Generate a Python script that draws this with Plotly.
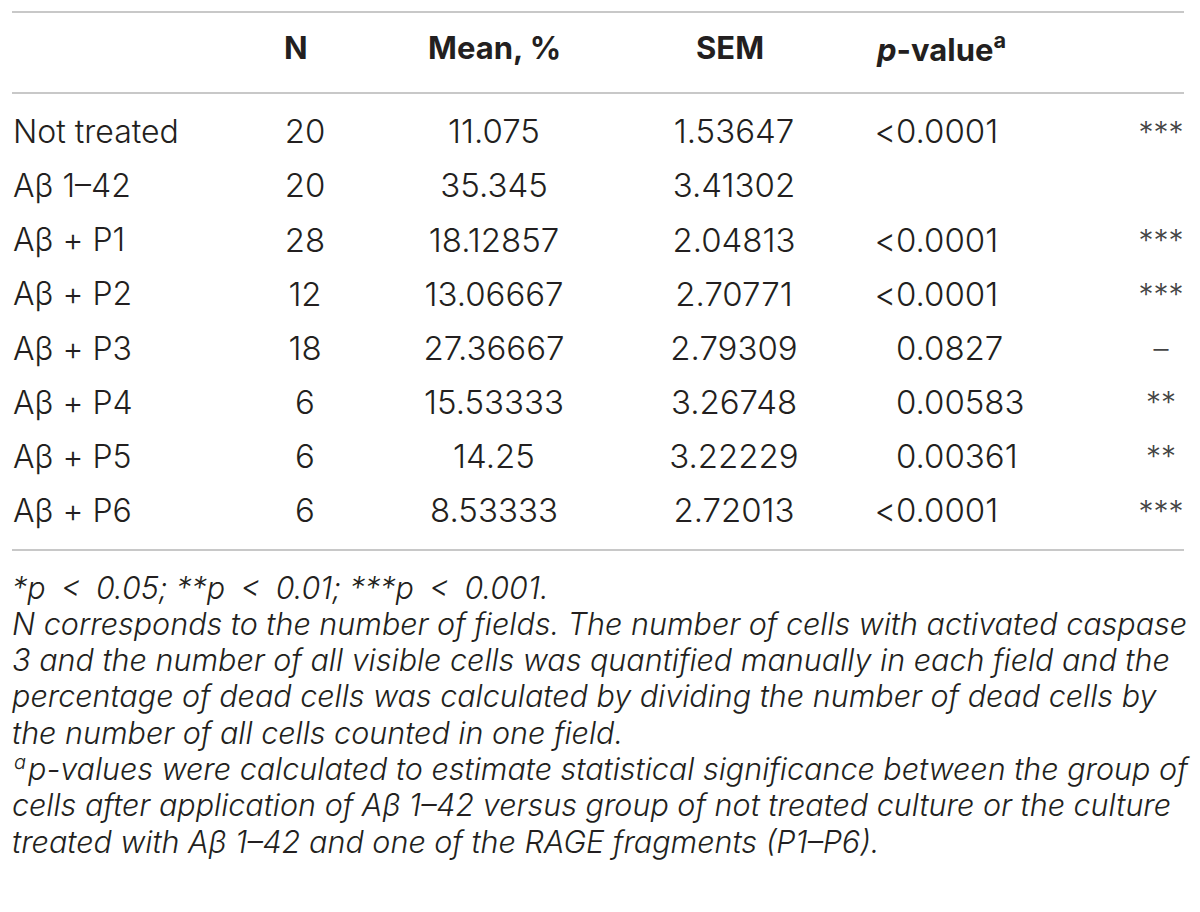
import plotly.graph_objects as go

# table data
groups = ["Not treated", "Aβ 1–42", "Aβ + P1", "Aβ + P2", "Aβ + P3", "Aβ + P4", "Aβ + P5", "Aβ + P6"]
n_fields = ["20", "20", "28", "12", "18", "6", "6", "6"]
means = ["11.075", "35.345", "18.12857", "13.06667", "27.36667", "15.53333", "14.25", "8.53333"]
sems = ["1.53647", "3.41302", "2.04813", "2.70771", "2.79309", "3.26748", "3.22229", "2.72013"]
p_values = ["<0.0001", "", "<0.0001", "<0.0001", "0.0827", "0.00583", "0.00361", "<0.0001"]
signif = ["***", "", "***", "***", "–", "**", "**", "***"]

headers = ["N", "Mean, %", "SEM", "<i>p</i>-value<sup>a</sup>"]

footnotes = [
    "*p\u2002<\u20020.05; **p\u2002<\u20020.01; ***p\u2002<\u20020.001.",
    "N corresponds to the number of fields. The number of cells with activated caspase",
    "3 and the number of all visible cells was quantified manually in each field and the",
    "percentage of dead cells was calculated by dividing the number of dead cells by",
    "the number of all cells counted in one field.",
    "p-values were calculated to estimate statistical significance between the group of",
    "cells after application of Aβ 1–42 versus group of not treated culture or the culture",
    "treated with Aβ 1–42 and one of the RAGE fragments (P1–P6).",
]
footnote_mark = "a"  # superscript in front of the 6th footnote line

# page has an 8px body margin, so figure coords = screen coords - 8
OFF = 8
W, H = 1200 - 2 * OFF, 912 - 2 * OFF
TXT = "#231f20"
FONT = "Inter"
LABEL_FONT = dict(family=FONT, size=32, color=TXT, weight=300)
NUM_FONT = dict(family=FONT, size=33, color=TXT, weight=300)
NOTE_FONT = dict(family=FONT, size=30.5, color=TXT, weight=300)


def sy(y):
    # screen y (px from top) -> paper fraction
    return 1 - (y - OFF) / H


# column x positions (screen pixels)
x_label, x_n, x_mean, x_sem, x_p, x_sig = 13, 305, 494, 734, 896, 1161
header_x = [296, 494, 730, 941]

fig = go.Figure()


def col(x, values, pos, font=NUM_FONT):
    fig.add_trace(go.Scatter(
        x=[x - OFF] * len(groups), y=groups, text=values, mode="text",
        textposition=pos, textfont=font, hoverinfo="skip", showlegend=False,
    ))


col(x_label, groups, "middle right", LABEL_FONT)
col(x_n, n_fields, "middle center")
col(x_mean, means, "middle center")
col(x_sem, sems, "middle center")
# p-values: "<" hangs left of the digits
col(x_p, ["<" if p.startswith("<") else "" for p in p_values], "middle left")
col(x_p, [p.lstrip("<") for p in p_values], "middle right")
col(x_sig, signif, "middle center", dict(family=FONT, size=30, color="#444444", weight=300))

# header row
for hx, h in zip(header_x, headers):
    fig.add_annotation(x=hx - OFF, y=sy(48), xref="x", yref="paper", text=h, showarrow=False,
                       xanchor="center", yanchor="middle",
                       font=dict(family=FONT, size=31, color=TXT, weight=700))

# footnotes
for i, t in enumerate(footnotes):
    x0 = 26 if i == 5 else 10
    fig.add_annotation(x=x0 - OFF, y=sy(587 + i * 36.3), xref="x", yref="paper", text="<i>" + t + "</i>",
                       showarrow=False, xanchor="left", yanchor="middle", font=NOTE_FONT)
fig.add_annotation(x=12 - OFF, y=sy(587 + 5 * 36.3 - 7), xref="x", yref="paper",
                   text="<i>" + footnote_mark + "</i>", showarrow=False, xanchor="left", yanchor="middle",
                   font=dict(family=FONT, size=20, color=TXT, weight=300))

# horizontal rules
for ly in [12, 93, 550]:
    fig.add_shape(type="line", xref="x", yref="paper", x0=12 - OFF, x1=1184 - OFF, y0=sy(ly), y1=sy(ly),
                  line=dict(color="#c8c8c8", width=2))

row_top, row_h = 108, 54.14  # screen px
fig.update_layout(
    width=W, height=H, autosize=False,
    margin=dict(l=0, r=0, t=0, b=0),
    paper_bgcolor="white", plot_bgcolor="white",
    xaxis=dict(range=[0, W], visible=False, fixedrange=True),
    yaxis=dict(type="category", categoryorder="array", categoryarray=groups,
               range=[len(groups) - 0.5, -0.5], visible=False, fixedrange=True,
               domain=[sy(row_top + row_h * len(groups)), sy(row_top)]),
)

fig.write_html("out.html")
